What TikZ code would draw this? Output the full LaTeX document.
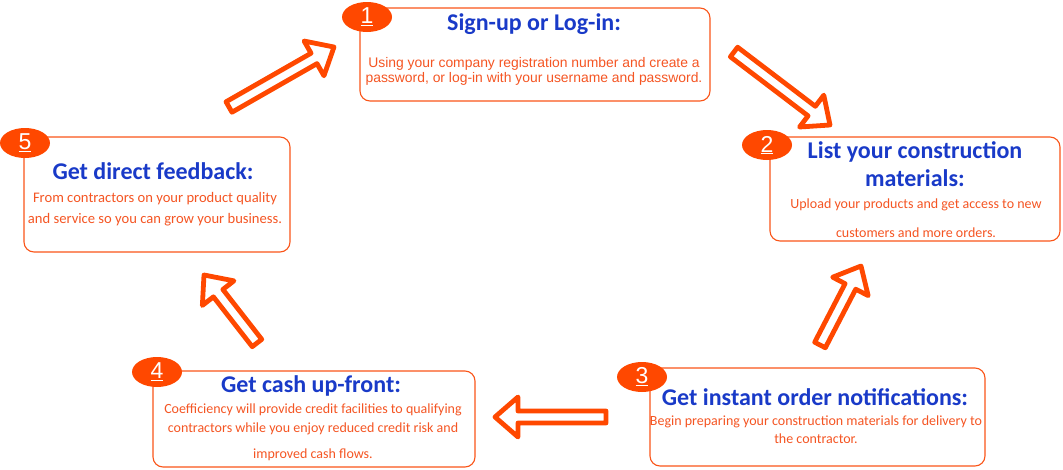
\documentclass[tikz,border=0pt]{standalone}
\usepackage{fontspec}
\setmainfont{Carlito}
\newfontfamily\arialf{Liberation Sans}
\usetikzlibrary{calc,shapes.geometric}
\definecolor{arrowc}{RGB}{255,72,0}
\definecolor{borderc}{RGB}{250,85,25}
\definecolor{bodyc}{RGB}{245,85,35}
\definecolor{titlec}{RGB}{25,58,200}
\newcommand\fsz[1]{\fontsize{#1}{#1}\selectfont}
\newcommand\blockarr[2]{%
  \coordinate (hb) at ($(#2)!23pt!(#1)$);
  \draw[blockarrow] ($(#1)!6pt!90:(#2)$) -- ($(hb)!6pt!90:(#2)$) -- ($(hb)!20pt!90:(#2)$) -- (#2)
    -- ($(hb)!20pt!-90:(#2)$) -- ($(hb)!6pt!-90:(#2)$) -- ($(#1)!6pt!-90:(#2)$) -- cycle;}
\begin{document}
\begin{tikzpicture}[x=1pt,y=-1pt,
  stepbox/.style={draw=borderc,line width=1.1pt,rounded corners=10pt,fill=white},
  badge/.style={ellipse,fill=arrowc,minimum width=50pt,minimum height=30pt,inner sep=0pt,text=white,font=\arialf\fsz{23}},
  ttl/.style={anchor=base,inner sep=0pt,text=titlec,font=\bfseries\fsz{24}},
  bodya/.style={anchor=base,inner sep=0pt,text=bodyc,font=\arialf\fsz{13.9}},
  body/.style={anchor=base,inner sep=0pt,text=bodyc,font=\fsz{14}},
  blockarrow/.style={draw=arrowc,line width=4.8pt,line join=round,fill=white}]
\useasboundingbox (0,0) rectangle (1063,469);
% boxes
\draw[stepbox] (360,8) rectangle (710,101) coordinate (b1);
\draw[stepbox] (770,137) rectangle (1060,241) coordinate (b2);
\draw[stepbox] (650,368) rectangle (985,466) coordinate (b3);
\draw[stepbox] (153,371) rectangle (475,467) coordinate (b4);
\draw[stepbox] (24,137) rectangle (290,252) coordinate (b5);
% badges
\node[badge] (n1) at (367,17) {\raisebox{1pt}{\underline{1}}};
\node[badge] (n2) at (767,145) {\raisebox{1pt}{\underline{2}}};
\node[badge] (n3) at (642,377) {\raisebox{1pt}{\underline{3}}};
\node[badge] (n4) at (157,372) {\raisebox{1pt}{\underline{4}}};
\node[badge] (n5) at (25,143) {\raisebox{1pt}{\underline{5}}};
% box 1
\node[ttl] (t1) at (534,30) {Sign-up or Log-in:};
\node[bodya] (d1a) at (534,67) {Using your company registration number and create a};
\node[bodya] (d1b) at (534,82) {password, or log-in with your username and password.};
% box 2
\node[ttl] (t2a) at (915,158) {List your construction};
\node[ttl] (t2b) at (915,186) {materials:};
\node[body] (d2a) at (916,208) {Upload your products and get access to new};
\node[body] (d2b) at (916,237) {customers and more orders.};
% box 3
\node[ttl] (t3) at (815,405) {Get instant order notifications:};
\node[body] (d3a) at (816,425) {Begin preparing your construction materials for delivery to};
\node[body] (d3b) at (816,443) {the contractor.};
% box 4
\node[ttl] (t4) at (311,392) {Get cash up-front:};
\node[body] (d4a) at (313,413) {Coefficiency will provide credit facilities to qualifying};
\node[body] (d4b) at (313,432) {contractors while you enjoy reduced credit risk and};
\node[body] (d4c) at (313,458) {improved cash flows.};
% box 5
\node[ttl] (t5) at (153,179) {Get direct feedback:};
\node[body,font=\fsz{14.6}] (d5a) at (155,202) {From contractors on your product quality};
\node[body,font=\fsz{14.6}] (d5b) at (155,223) {and service so you can grow your business.};
% arrows
\coordinate (a51s) at (229,107); \coordinate (a51e) at (334,47);
\coordinate (a12s) at (734,52);  \coordinate (a12e) at (830,125);
\coordinate (a32s) at (820,345); \coordinate (a32e) at (861,266);
\coordinate (a34s) at (606,417); \coordinate (a34e) at (495,417);
\coordinate (a45s) at (257,343); \coordinate (a45e) at (204,275);
\blockarr{a51s}{a51e}
\blockarr{a12s}{a12e}
\blockarr{a32s}{a32e}
\blockarr{a34s}{a34e}
\blockarr{a45s}{a45e}
\end{tikzpicture}
\end{document}
